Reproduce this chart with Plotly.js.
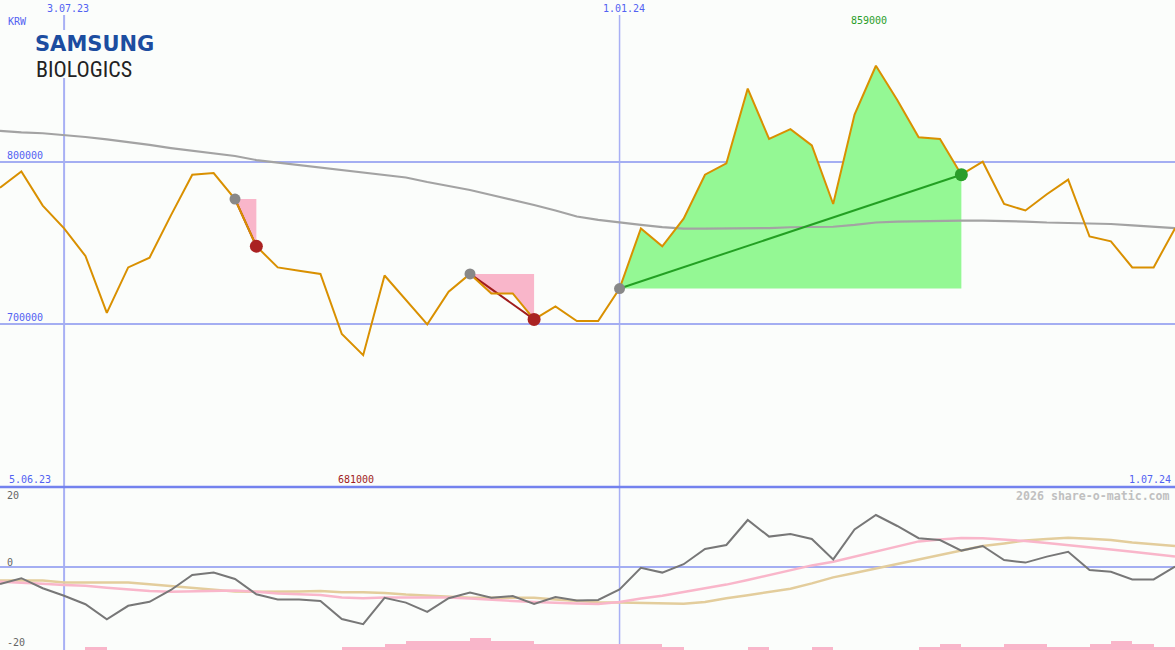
<!DOCTYPE html>
<html>
<head>
<meta charset="utf-8">
<script src="https://cdn.plot.ly/plotly-3.0.1.min.js"></script>
<style>
html,body{margin:0;padding:0;background:#fbfdfb;}
#chart{width:1175px;height:650px;}
</style>
</head>
<body>
<div id="chart"></div>
<script>
// ---------- DATA ----------
const weekIndex = Array.from({length: 56}, (_, i) => i);

const price = [784000, 794000, 773000, 759000, 742000, 707000, 735000, 741000, 767000, 792000,
               793000, 777000, 748000, 735000, 733000, 731000, 694000, 681000, 730000, 715000,
               700000, 720000, 731000, 719000, 719000, 703000, 711000, 702000, 702000, 722000,
               759000, 748000, 765000, 792000, 799000, 845000, 814000, 820000, 810000, 774000,
               829000, 859000, 838000, 815000, 814000, 792000, 800000, 774000, 770000, 780000,
               789000, 754000, 751000, 735000, 735000, 759000];

const longMA = [819000, 818000, 817500, 816400, 815200, 813700, 812100, 810300, 808400, 806900,
                805400, 803500, 801000, 799500, 798000, 796400, 794900, 793400, 792100, 790300,
                787500, 785100, 782600, 779500, 776500, 773400, 770000, 766300, 764200, 762500,
                761100, 759800, 758900, 758800, 758800, 758900, 759200, 759700, 759800, 760000,
                761100, 762600, 763200, 763500, 763700, 763700, 763700, 763500, 763200, 762600,
                762300, 762100, 761700, 760800, 759800, 759200];

const oscillator = [-4.25, -2.8, -5.3, -7.2, -9.3, -13.1, -9.7, -8.7, -5.75, -2,
                    -1.4, -3, -6.8, -8.1, -8.1, -8.5, -13, -14.3, -7.7, -8.9,
                    -11.2, -7.8, -6.4, -7.7, -7.25, -9.25, -7.5, -8.4, -8.25, -5.6,
                    -0.2, -1.4, 0.7, 4.5, 5.5, 11.75, 7.6, 8.25, 7, 1.9,
                    9.4, 13, 10.25, 7.2, 6.75, 4.1, 5.25, 1.75, 1.1, 2.6,
                    3.8, -0.75, -1.2, -3.1, -3.1, 0.1];

const oscFast = [-3.7, -3.9, -4.2, -4.5, -4.7, -5.2, -5.6, -6, -6.2, -6.1,
                 -5.9, -5.9, -6.2, -6.6, -6.8, -7, -7.6, -7.8, -7.6, -7.6,
                 -7.6, -7.6, -7.9, -8.25, -8.5, -8.75, -9, -9.1, -9.25, -8.75,
                 -7.9, -7.2, -6.25, -5.4, -4.4, -3.25, -2, -0.9, 0.4, 1.3,
                 2.6, 3.9, 5.2, 6.4, 6.9, 7.25, 7.2, 6.9, 6.5, 6,
                 5.5, 4.9, 4.4, 3.8, 3.25, 2.6];

const oscSlow = [-3.4, -3.4, -3.4, -3.9, -3.9, -3.9, -3.9, -4.3, -4.75, -5.2,
                 -5.6, -6.1, -6.2, -6.2, -6.1, -6, -6.3, -6.3, -6.5, -6.9,
                 -7.2, -7.5, -7.7, -7.7, -7.7, -7.7, -8.1, -8.5, -8.8, -8.9,
                 -9, -9.1, -9.2, -8.75, -7.8, -7.05, -6.25, -5.45, -4.1, -2.6,
                 -1.5, -0.4, 0.75, 1.8, 2.95, 4.1, 5.25, 5.9, 6.6, 7,
                 7.3, 7.05, 6.75, 6.1, 5.6, 5.25];

const volumeLevel = [0, 0, 0, 0, 1, 0, 0, 0, 0, 0,
                     0, 0, 0, 0, 0, 0, 1, 1, 2, 3,
                     3, 3, 4, 3, 3, 2, 2, 2, 2, 2,
                     2, 1, 0, 0, 0, 1, 0, 0, 1, 0,
                     0, 0, 0, 1, 2, 1, 1, 2, 2, 1,
                     1, 2, 3, 2, 1, 0];

const signalStart = [11, 22, 29];
const signalEnd   = [12, 25, 45];
const signalType  = ['sell', 'sell', 'buy'];

const topDateLabels = ['3.07.23', '1.01.24'];
const topDateIndex  = [3, 29];
const leftDateLabel = '5.06.23';
const rightDateLabel = '1.07.24';
const priceTicks = [700000, 800000];
const oscTicks = [20, 0, -20];
const currency = 'KRW';
const credit = '2026 share-o-matic.com';
const logoTop = 'SAMSUNG';
const logoBottom = 'BIOLOGICS';

// ---------- STYLE ----------
const BG = '#fbfdfb';
const BLUE_TXT = '#5262f2';
const GRID = '#a4aef2';
const MONO = 'DejaVu Sans Mono, monospace';
const py = p => 1 - p / 650;

const traces = [];

// signal fills
signalStart.forEach((s, k) => {
  const e = signalEnd[k];
  const xs = weekIndex.slice(s, e + 1);
  const ys = price.slice(s, e + 1);
  const fillc = signalType[k] === 'buy' ? '#94f894' : '#f9b6ca';
  traces.push({x: xs, y: xs.map(() => price[s]), mode: 'lines', line: {width: 0, color: fillc},
               hoverinfo: 'skip', showlegend: false, xaxis: 'x', yaxis: 'y'});
  traces.push({x: xs, y: ys, mode: 'lines', line: {width: 0, color: fillc}, fill: 'tonexty',
               fillcolor: fillc, hoverinfo: 'skip', showlegend: false, xaxis: 'x', yaxis: 'y'});
});

// long moving average
traces.push({x: weekIndex, y: longMA, mode: 'lines', line: {color: '#a3a3a3', width: 2.2},
             showlegend: false, xaxis: 'x', yaxis: 'y'});

// signal lines
signalStart.forEach((s, k) => {
  const e = signalEnd[k];
  traces.push({x: [weekIndex[s], weekIndex[e]], y: [price[s], price[e]], mode: 'lines',
               line: {color: signalType[k] === 'buy' ? '#23a023' : '#a01c1c', width: 2},
               showlegend: false, xaxis: 'x', yaxis: 'y'});
});

// price line
traces.push({x: weekIndex, y: price, mode: 'lines', line: {color: '#d99000', width: 2},
             showlegend: false, xaxis: 'x', yaxis: 'y'});

// markers
traces.push({x: signalStart.map(i => weekIndex[i]), y: signalStart.map(i => price[i]), mode: 'markers',
             marker: {color: '#888888', size: 11}, showlegend: false, xaxis: 'x', yaxis: 'y'});
traces.push({x: signalEnd.map(i => weekIndex[i]), y: signalEnd.map(i => price[i]), mode: 'markers',
             marker: {color: signalType.map(t => t === 'buy' ? '#2a9d2a' : '#aa2222'), size: 13},
             showlegend: false, xaxis: 'x', yaxis: 'y'});

// lower panel
traces.push({x: weekIndex.map(i => i + 0.5), y: volumeLevel, type: 'bar', width: 1,
             marker: {color: '#f9b6ca', line: {width: 0}}, showlegend: false, xaxis: 'x', yaxis: 'y3'});
traces.push({x: weekIndex, y: oscSlow, mode: 'lines', line: {color: '#e3cd9c', width: 2.5},
             showlegend: false, xaxis: 'x', yaxis: 'y2'});
traces.push({x: weekIndex, y: oscFast, mode: 'lines', line: {color: '#f9b6ca', width: 2.5},
             showlegend: false, xaxis: 'x', yaxis: 'y2'});
traces.push({x: weekIndex, y: oscillator, mode: 'lines', line: {color: '#777777', width: 2},
             showlegend: false, xaxis: 'x', yaxis: 'y2'});

const splitY = py(487);
const annotations = [];
const txt = (text, x, y, opts = {}) => Object.assign({
  text, x, y, xref: 'paper', yref: 'paper', showarrow: false, xanchor: 'left', yanchor: 'middle',
  font: {family: MONO, size: 10, color: BLUE_TXT}
}, opts);

annotations.push(txt(currency, 6 / 1175, py(21.5)));
topDateLabels.forEach((t, k) => annotations.push(txt(t, topDateIndex[k], py(9),
  {xref: 'x', xanchor: 'center', xshift: 4})));
annotations.push(txt(leftDateLabel, 7 / 1175, py(479)));
annotations.push(txt(rightDateLabel, 1173 / 1175, py(479), {xanchor: 'right'}));
priceTicks.forEach(v => annotations.push(txt(String(v), 5 / 1175, v, {yref: 'y', yshift: 6.5})));

const hi = price.indexOf(Math.max(...price));
const lo = price.indexOf(Math.min(...price));
annotations.push(txt(String(price[hi]), weekIndex[hi], py(21), {xref: 'x', xanchor: 'center', xshift: -7,
  font: {family: MONO, size: 10, color: '#2a9d2a'}}));
annotations.push(txt(String(price[lo]), weekIndex[lo], py(479), {xref: 'x', xanchor: 'center', xshift: -7,
  font: {family: MONO, size: 10, color: '#a01c1c'}}));

annotations.push(txt(credit, 1172 / 1175, py(496), {xanchor: 'right',
  font: {family: MONO, size: 11.6, color: '#c0c0c0', weight: 'bold'}}));

const oscLabelY = [495.5, 562.5, 642];
oscTicks.forEach((v, k) => annotations.push(txt(String(v), 5 / 1175, py(oscLabelY[k]),
  {font: {family: MONO, size: 10, color: '#666666'}})));

annotations.push(txt(logoTop, 33 / 1175, py(44), {
  font: {family: 'DejaVu Sans', size: 21, color: '#1c4da0', weight: 'bold'}}));
annotations.push(txt(logoBottom, 34 / 1175, py(69), {
  font: {family: 'Liberation Sans Narrow, Roboto Condensed, Roboto', size: 22, color: '#222222'}}));

const shapes = [
  {type: 'line', xref: 'x', yref: 'paper', x0: topDateIndex[0], x1: topDateIndex[0], y0: 0, y1: py(15),
   line: {color: '#a8b0f4', width: 2}, layer: 'below'},
  {type: 'line', xref: 'x', yref: 'paper', x0: topDateIndex[1], x1: topDateIndex[1], y0: 0, y1: py(15),
   line: {color: '#a8b0f4', width: 1.5}, layer: 'below'},
  {type: 'rect', xref: 'paper', yref: 'paper', x0: 30 / 1175, x1: 160 / 1175, y0: py(78), y1: py(30),
   fillcolor: BG, line: {width: 0}, layer: 'above'},
  {type: 'line', xref: 'paper', yref: 'paper', x0: 0, x1: 1, y0: splitY, y1: splitY,
   line: {color: '#7382ee', width: 2.5}, layer: 'above'}
];

const layout = {
  width: 1175, height: 650,
  margin: {l: 0, r: 0, t: 0, b: 0, pad: 0},
  paper_bgcolor: BG, plot_bgcolor: BG,
  showlegend: false,
  xaxis: {range: [0, 55], showgrid: false, zeroline: false, showticklabels: false, ticks: '',
          showline: false, fixedrange: true},
  yaxis: {domain: [splitY, 1], range: [599940, 899446], tickvals: priceTicks, showticklabels: false,
          showgrid: true, gridcolor: GRID, gridwidth: 2, zeroline: false, ticks: ''},
  yaxis2: {domain: [0, splitY], range: [-20.75, 20], tickvals: [0], showticklabels: false,
           showgrid: true, gridcolor: GRID, gridwidth: 2, zeroline: false, ticks: ''},
  yaxis3: {domain: [0, splitY], overlaying: 'y2', range: [0, 56], showgrid: false, zeroline: false,
           showticklabels: false, ticks: ''},
  bargap: 0,
  annotations, shapes
};

Plotly.newPlot('chart', traces, layout, {displayModeBar: false, staticPlot: true});
</script>
</body>
</html>
